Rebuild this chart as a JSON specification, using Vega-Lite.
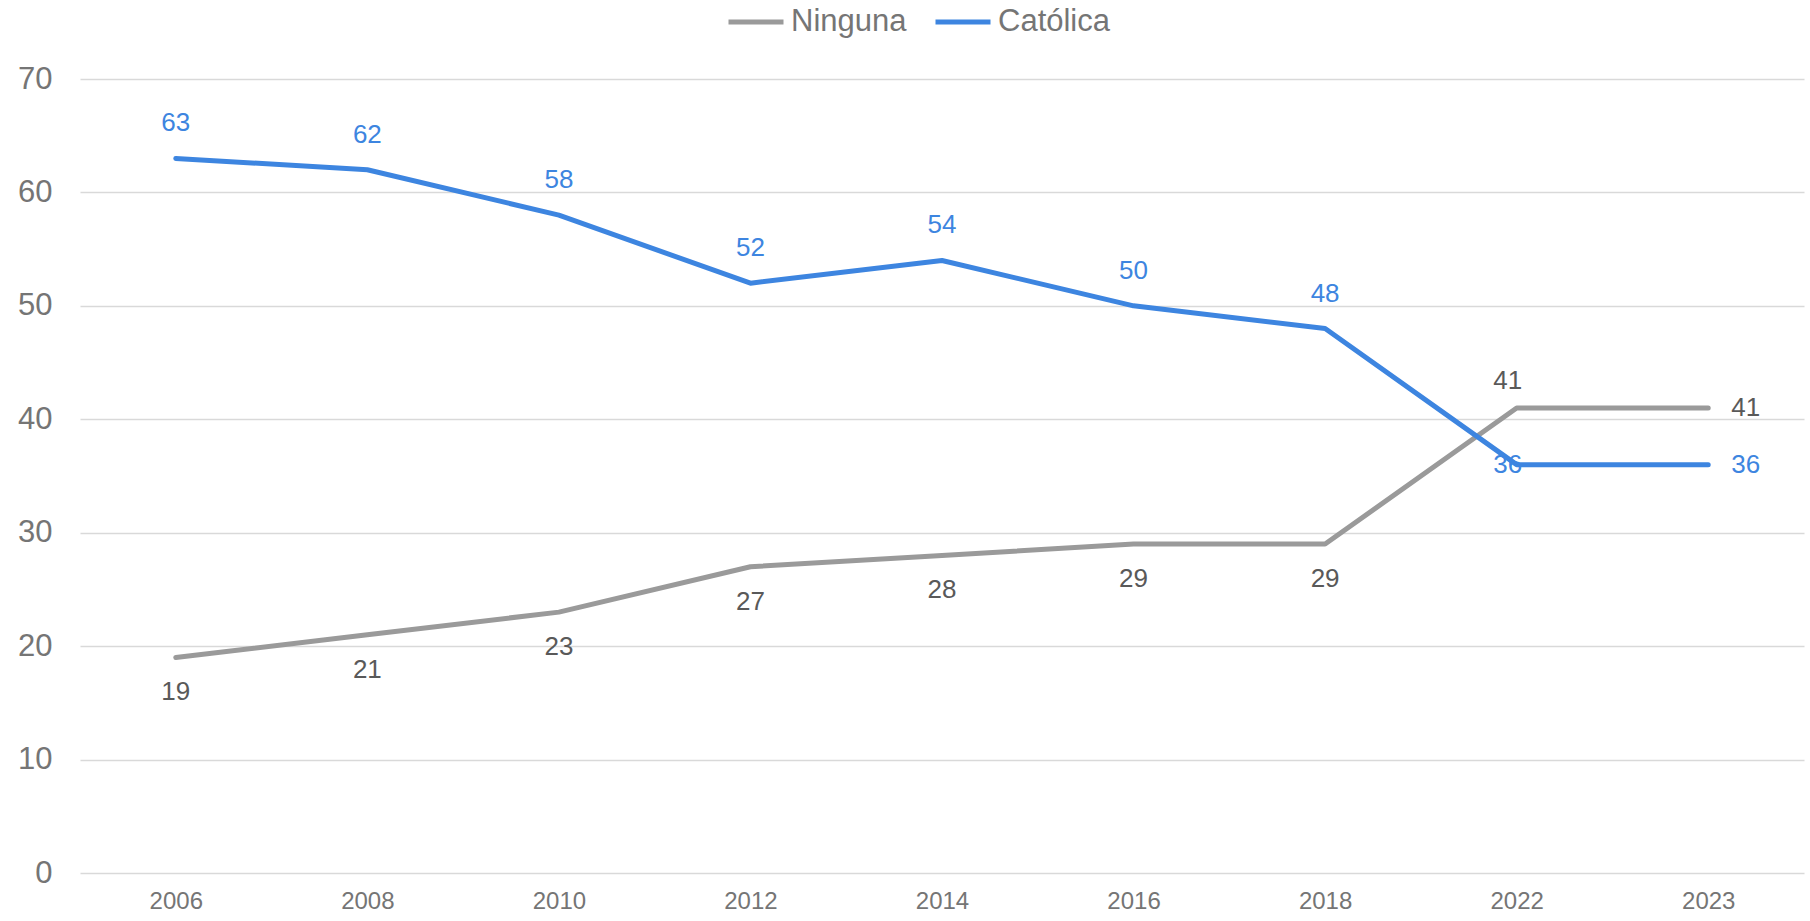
{
  "$schema": "https://vega.github.io/schema/vega-lite/v6.json",
  "autosize": "none",
  "width": 1724,
  "height": 794,
  "padding": {"left": 80, "top": 79, "right": 6, "bottom": 48},
  "background": "white",
  "config": {"view": {"stroke": null}, "font": "Liberation Sans"},
  "data": {"values": [
    {"year": "2006", "series": "Ninguna", "value": 19},
    {"year": "2008", "series": "Ninguna", "value": 21},
    {"year": "2010", "series": "Ninguna", "value": 23},
    {"year": "2012", "series": "Ninguna", "value": 27},
    {"year": "2014", "series": "Ninguna", "value": 28},
    {"year": "2016", "series": "Ninguna", "value": 29},
    {"year": "2018", "series": "Ninguna", "value": 29},
    {"year": "2022", "series": "Ninguna", "value": 41},
    {"year": "2023", "series": "Ninguna", "value": 41},
    {"year": "2006", "series": "Católica", "value": 63},
    {"year": "2008", "series": "Católica", "value": 62},
    {"year": "2010", "series": "Católica", "value": 58},
    {"year": "2012", "series": "Católica", "value": 52},
    {"year": "2014", "series": "Católica", "value": 54},
    {"year": "2016", "series": "Católica", "value": 50},
    {"year": "2018", "series": "Católica", "value": 48},
    {"year": "2022", "series": "Católica", "value": 36},
    {"year": "2023", "series": "Católica", "value": 36}
  ]},
  "encoding": {
    "x": {"field": "year", "type": "ordinal", "scale": {"type": "point", "padding": 0.5},
      "axis": {"title": null, "labelAngle": 0, "domain": false, "ticks": false, "labelFontSize": 24, "labelColor": "#757575", "labelPadding": 16, "grid": false}},
    "y": {"field": "value", "type": "quantitative", "scale": {"domain": [0, 70]},
      "axis": {"title": null, "values": [0,10,20,30,40,50,60,70], "domain": false, "ticks": false, "labelFontSize": 31, "labelColor": "#757575", "labelPadding": 28, "gridColor": "#d9d9d9", "gridWidth": 1.5}}
  },
  "layer": [
    {
      "mark": {"type": "line", "strokeWidth": 5, "strokeCap": "round", "strokeJoin": "round"},
      "encoding": {
        "color": {"field": "series", "type": "nominal",
          "scale": {"domain": ["Ninguna", "Católica"], "range": ["#9a9a9a", "#3d85e0"]},
          "legend": {"title": null, "orient": "none", "direction": "horizontal", "legendX": 646, "legendY": -87,
            "symbolType": "stroke", "symbolStrokeWidth": 5, "symbolSize": 3025, "labelFontSize": 31, "labelColor": "#757575",
            "labelOffset": 5, "columnPadding": 18}}
      }
    },
    {
      "transform": [{"filter": "datum.series == 'Católica' && datum.year != '2022' && datum.year != '2023'"}],
      "mark": {"type": "text", "fontSize": 26, "color": "#3d85e0", "baseline": "middle", "dy": -35},
      "encoding": {"text": {"field": "value", "type": "quantitative"}}
    },
    {
      "transform": [{"filter": "datum.series == 'Ninguna' && datum.year != '2022' && datum.year != '2023'"}],
      "mark": {"type": "text", "fontSize": 26, "color": "#595959", "baseline": "middle", "dy": 35},
      "encoding": {"text": {"field": "value", "type": "quantitative"}}
    },
    {
      "transform": [{"filter": "datum.series == 'Ninguna' && datum.year == '2022'"}],
      "mark": {"type": "text", "fontSize": 26, "color": "#595959", "baseline": "middle", "dy": -27, "dx": -9},
      "encoding": {"text": {"field": "value", "type": "quantitative"}}
    },
    {
      "transform": [{"filter": "datum.series == 'Católica' && datum.year == '2022'"}],
      "mark": {"type": "text", "fontSize": 26, "color": "#3d85e0", "baseline": "middle", "dx": -9},
      "encoding": {"text": {"field": "value", "type": "quantitative"}}
    },
    {
      "transform": [{"filter": "datum.series == 'Ninguna' && datum.year == '2023'"}],
      "mark": {"type": "text", "fontSize": 26, "color": "#595959", "baseline": "middle", "align": "left", "dx": 23},
      "encoding": {"text": {"field": "value", "type": "quantitative"}}
    },
    {
      "transform": [{"filter": "datum.series == 'Católica' && datum.year == '2023'"}],
      "mark": {"type": "text", "fontSize": 26, "color": "#3d85e0", "baseline": "middle", "align": "left", "dx": 23},
      "encoding": {"text": {"field": "value", "type": "quantitative"}}
    }
  ]
}
